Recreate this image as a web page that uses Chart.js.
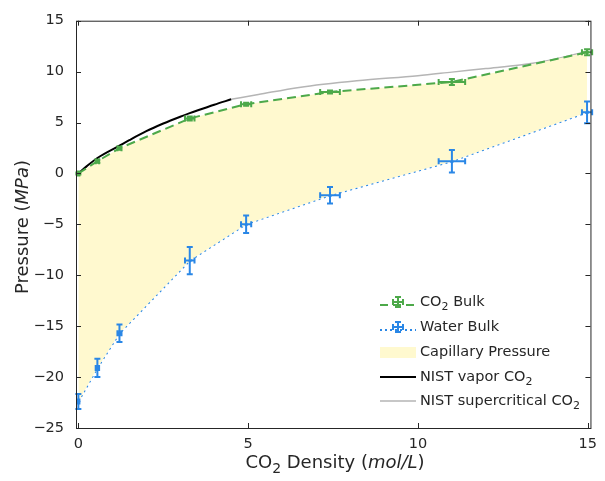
<!DOCTYPE html>
<html>
<head>
<meta charset="utf-8">
<script src="https://cdn.jsdelivr.net/npm/chart.js@4.4.1/dist/chart.umd.min.js"></script>
<style>
html,body{margin:0;padding:0;background:#fff;}
</style>
</head>
<body>
<canvas id="c" width="605" height="481" style="width:605px;height:481px"></canvas>
<script>
// CO2 Bulk / Water Bulk measurements (density in mol/L, pressure in MPa)
const densX    = [0, 0.56, 1.21, 3.28, 4.94, 7.41, 11.0, 14.98];
const densXErr = [0.03, 0.05, 0.06, 0.14, 0.15, 0.29, 0.39, 0.15];
const co2P     = [0, 1.2, 2.47, 5.4, 6.8, 8.0, 8.98, 11.9];
const co2PErr  = [0.1, 0.15, 0.15, 0.2, 0.15, 0.15, 0.3, 0.3];
const waterP    = [-22.4, -19.1, -15.7, -8.56, -4.98, -2.15, 1.2, 6.0];
const waterPErr = [0.73, 0.9, 0.86, 1.33, 0.86, 0.81, 1.1, 1.06];

// NIST curves
const vaporX = [0, 0.25, 0.56, 1.21, 1.5, 2, 2.5, 3, 3.28, 3.5, 4, 4.5];
const vaporP = [0, 0.72, 1.52, 2.73, 3.27, 4.15, 4.9, 5.57, 5.92, 6.18, 6.75, 7.28];
const superX = [4.5, 5.3, 6.5, 8.2, 10, 11, 12, 13, 14, 15];
const superP = [7.28, 7.75, 8.45, 9.1, 9.6, 9.95, 10.3, 10.65, 11.2, 12.0];

const xTicks = [0, 5, 10, 15];
const yTicks = [-25, -20, -15, -10, -5, 0, 5, 10, 15];

const GREEN = "#4da94a", BLUE = "#2a87e6", FILL = "#fff9cf", AXIS = "#262626";
const FONT = "'DejaVu Sans', sans-serif";

const pts = (xs, ys) => xs.map((x, i) => ({x: x, y: ys[i]}));
const minus = v => String(v).replace("-", "\u2212");

// rich text with subscripts / italics
function richText(ctx, parts, x, y, align, size) {
  const sub = Math.round(size * 0.75), off = size * 0.36;
  let w = 0;
  parts.forEach(p => {
    ctx.font = (p.it ? "italic " : "") + (p.sub ? sub : size) + "px " + FONT;
    p.w = ctx.measureText(p.t).width; w += p.w;
  });
  let cx = align === "center" ? x - w / 2 : x;
  ctx.textBaseline = "middle"; ctx.textAlign = "left";
  parts.forEach(p => {
    ctx.font = (p.it ? "italic " : "") + (p.sub ? sub : size) + "px " + FONT;
    ctx.fillText(p.t, cx, p.sub ? y + off : y);
    cx += p.w;
  });
}

function errCross(ctx, px, py, hx, hy, color) {
  const cap = 3;
  ctx.strokeStyle = color; ctx.lineWidth = 2; ctx.setLineDash([]);
  ctx.beginPath();
  ctx.moveTo(px, py - hy); ctx.lineTo(px, py + hy);
  ctx.moveTo(px - cap, py - hy); ctx.lineTo(px + cap, py - hy);
  ctx.moveTo(px - cap, py + hy); ctx.lineTo(px + cap, py + hy);
  ctx.moveTo(px - hx, py); ctx.lineTo(px + hx, py);
  ctx.moveTo(px - hx, py - cap); ctx.lineTo(px - hx, py + cap);
  ctx.moveTo(px + hx, py - cap); ctx.lineTo(px + hx, py + cap);
  ctx.stroke();
}

const extras = {
  id: "extras",
  afterDatasetsDraw(chart) {
    const ctx = chart.ctx, xs = chart.scales.x, ys = chart.scales.y;
    ctx.save();
    const series = [[co2P, co2PErr, GREEN], [waterP, waterPErr, BLUE]];
    series.forEach(([vals, errs, col]) => {
      densX.forEach((d, i) => {
        const px = xs.getPixelForValue(d), py = ys.getPixelForValue(vals[i]);
        const hx = Math.abs(xs.getPixelForValue(d + densXErr[i]) - px);
        const hy = Math.abs(ys.getPixelForValue(vals[i] + errs[i]) - py);
        errCross(ctx, px, py, hx, hy, col);
      });
    });
    ctx.restore();
  },
  afterDraw(chart) {
    const ctx = chart.ctx, a = chart.chartArea, xs = chart.scales.x, ys = chart.scales.y;
    ctx.save();
    // box + inward ticks
    ctx.strokeStyle = AXIS; ctx.lineWidth = 1; ctx.setLineDash([]);
    ctx.strokeRect(a.left + 0.5, a.top + 0.5, a.right - a.left, a.bottom - a.top);
    ctx.beginPath();
    xTicks.forEach(v => {
      const p = Math.round(xs.getPixelForValue(v)) + 0.5;
      ctx.moveTo(p, a.bottom); ctx.lineTo(p, a.bottom - 5);
      ctx.moveTo(p, a.top); ctx.lineTo(p, a.top + 5);
    });
    yTicks.forEach(v => {
      const p = Math.round(ys.getPixelForValue(v)) + 0.5;
      ctx.moveTo(a.left, p); ctx.lineTo(a.left + 5, p);
      ctx.moveTo(a.right, p); ctx.lineTo(a.right - 5, p);
    });
    ctx.stroke();

    // axis titles
    ctx.fillStyle = AXIS;
    richText(ctx, [{t: "CO"}, {t: "2", sub: true}, {t: " Density ("}, {t: "mol/L", it: true}, {t: ")"}],
      335, 463, "center", 18);
    ctx.save();
    ctx.translate(23, 227);
    ctx.rotate(-Math.PI / 2);
    richText(ctx, [{t: "Pressure ("}, {t: "MPa", it: true}, {t: ")"}], 0, 0, "center", 18);
    ctx.restore();

    // legend
    const lx = 380, tx = 420, rows = [302, 327, 352, 377, 401], fs = 14.5;
    ctx.strokeStyle = GREEN; ctx.lineWidth = 2; ctx.setLineDash([8, 5]);
    ctx.beginPath(); ctx.moveTo(lx, rows[0] + 3); ctx.lineTo(lx + 36, rows[0] + 3); ctx.stroke();
    errCross(ctx, lx + 18, rows[0], 5, 5, GREEN);
    ctx.strokeStyle = BLUE; ctx.lineWidth = 2; ctx.setLineDash([2, 3]);
    ctx.beginPath(); ctx.moveTo(lx, rows[1] + 3); ctx.lineTo(lx + 36, rows[1] + 3); ctx.stroke();
    errCross(ctx, lx + 18, rows[1], 5, 5, BLUE);
    ctx.fillStyle = FILL; ctx.fillRect(lx, rows[2] - 5, 36, 11);
    ctx.setLineDash([]);
    ctx.strokeStyle = "#000"; ctx.lineWidth = 2;
    ctx.beginPath(); ctx.moveTo(lx, rows[3]); ctx.lineTo(lx + 36, rows[3]); ctx.stroke();
    ctx.strokeStyle = "#b5b5b5"; ctx.lineWidth = 1.5;
    ctx.beginPath(); ctx.moveTo(lx, rows[4]); ctx.lineTo(lx + 36, rows[4]); ctx.stroke();

    ctx.fillStyle = AXIS;
    richText(ctx, [{t: "CO"}, {t: "2", sub: true}, {t: " Bulk"}], tx, rows[0], "left", fs);
    richText(ctx, [{t: "Water Bulk"}], tx, rows[1], "left", fs);
    richText(ctx, [{t: "Capillary Pressure"}], tx, rows[2], "left", fs);
    richText(ctx, [{t: "NIST vapor CO"}, {t: "2", sub: true}], tx, rows[3], "left", fs);
    richText(ctx, [{t: "NIST supercritical CO"}, {t: "2", sub: true}], tx, rows[4], "left", fs);
    ctx.restore();
  }
};

new Chart(document.getElementById("c"), {
  type: "scatter",
  data: {
    datasets: [
      {label: "CO2 Bulk", data: pts(densX, co2P), showLine: true, borderColor: GREEN, backgroundColor: FILL,
       borderWidth: 2, borderDash: [9, 5], pointRadius: 2, pointBackgroundColor: GREEN, pointBorderWidth: 0,
       fill: {target: 1}},
      {label: "Water Bulk", data: pts(densX, waterP), showLine: true, borderColor: BLUE,
       borderWidth: 2, borderDash: [2, 3.5], pointRadius: 2, pointBackgroundColor: BLUE, pointBorderWidth: 0, fill: false},
      {label: "NIST vapor CO2", data: pts(vaporX, vaporP), showLine: true, borderColor: "#000",
       borderWidth: 2, pointRadius: 0, cubicInterpolationMode: "monotone", fill: false},
      {label: "NIST supercritical CO2", data: pts(superX, superP), showLine: true, borderColor: "#b5b5b5",
       borderWidth: 1.5, pointRadius: 0, cubicInterpolationMode: "monotone", fill: false}
    ]
  },
  options: {
    responsive: false,
    animation: false,
    layout: {padding: {left: 0, top: 19, right: 8, bottom: 0}},
    plugins: {legend: {display: false}, tooltip: {enabled: false}},
    scales: {
      x: {type: "linear", min: -0.07, max: 15.08,
          afterBuildTicks: s => { s.ticks = xTicks.map(v => ({value: v})); },
          afterFit: s => { s.height = 53; },
          grid: {display: false, drawTicks: false}, border: {display: false},
          ticks: {padding: 8, color: AXIS, font: {family: FONT, size: 14.5}, callback: v => minus(v)}},
      y: {type: "linear", min: -25, max: 15,
          afterBuildTicks: s => { s.ticks = yTicks.map(v => ({value: v})); },
          afterFit: s => { s.width = 76; },
          grid: {display: false, drawTicks: false}, border: {display: false},
          ticks: {padding: 12, color: AXIS, font: {family: FONT, size: 14.5}, callback: v => minus(v)}}
    }
  },
  plugins: [extras]
});
</script>
</body>
</html>
